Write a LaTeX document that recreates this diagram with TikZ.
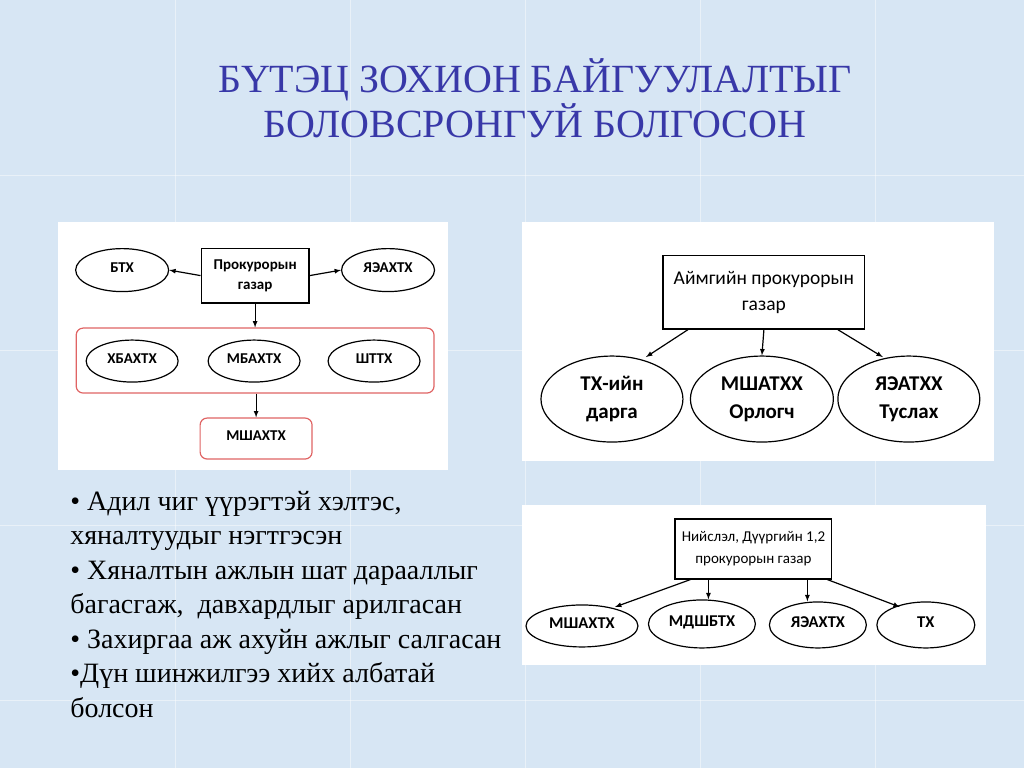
\documentclass[tikz,border=0pt]{standalone}
\usepackage{fontspec}
\setmainfont{Liberation Serif}
\newfontfamily\calib{Carlito}
\usetikzlibrary{shapes.geometric}
\definecolor{bgblue}{HTML}{D7E6F4}
\definecolor{titleblue}{HTML}{3838A8}
\definecolor{redline}{HTML}{E06464}

\begin{document}
\begin{tikzpicture}[x=1pt, y=-1pt,
  box/.style={draw, line width=1.2pt, rectangle, inner sep=0pt, align=center, font=\calib},
  oval/.style={draw, line width=1.2pt, ellipse, inner sep=0pt, align=center},
  one/.style={text height=1.5ex, text depth=0.5ex},
  redbox/.style={draw=redline, line width=1.2pt, rounded corners=7pt, rectangle, inner sep=0pt},
  arr/.style={line width=1.2pt, -latex}]
% background
\fill[bgblue] (0,0) rectangle (1024,768);
\foreach \k in {175,350,525,700,875} \draw[white, opacity=0.45] (\k,0) -- (\k,768);
\foreach \k in {175,350,525,700} \draw[white, opacity=0.45] (0,\k) -- (1024,\k);
\useasboundingbox (0,0) rectangle (1024,768);

% title
\node (t1) [anchor=base, titleblue, font=\fontsize{40}{44}\selectfont] at (535,92) {БҮТЭЦ ЗОХИОН БАЙГУУЛАЛТЫГ};
\node (t2) [anchor=base, titleblue, font=\fontsize{40}{44}\selectfont] at (535,137) {БОЛОВСРОНГУЙ БОЛГОСОН};

% panel 1
\fill[white] (58,222) rectangle (448,470);
\node (pg) [box, minimum width=108pt, minimum height=55pt, font=\calib\bfseries\fontsize{15}{20}\selectfont] at (255,275.5) {Прокурорын\\газар};
\node (btx) [oval, one, minimum width=93pt, minimum height=43pt, font=\calib\bfseries\fontsize{15}{17}\selectfont] at (122,270) {БТХ};
\node (yae) [oval, one, minimum width=93pt, minimum height=43pt, font=\calib\bfseries\fontsize{15}{17}\selectfont] at (388,270) {ЯЭАХТХ};
\node (grp) [redbox, minimum width=358pt, minimum height=65pt] at (255,360.5) {};
\node (xba) [oval, one, minimum width=92pt, minimum height=42pt, font=\calib\bfseries\fontsize{15}{17}\selectfont] at (132,361) {ХБАХТХ};
\node (mba) [oval, one, minimum width=92pt, minimum height=42pt, font=\calib\bfseries\fontsize{15}{17}\selectfont] at (254,361) {МБАХТХ};
\node (sht) [oval, one, minimum width=92pt, minimum height=42pt, font=\calib\bfseries\fontsize{15}{17}\selectfont] at (374,361) {ШТТХ};
\node (msh) [redbox, one, minimum width=112pt, minimum height=41pt, font=\calib\bfseries\fontsize{15}{17}\selectfont] at (256,438.5) {МШАХТХ};
\draw[arr] (pg.west) -- (btx.east);
\draw[arr] (pg.east) -- (yae.west);
\draw[arr] (pg.south) -- (pg.south |- grp.north);
\draw[arr] (grp.south -| msh.north) -- (msh.north);

% panel 2
\fill[white] (522,222) rectangle (994,461);
\node (aim) [box, minimum width=202pt, minimum height=74pt, font=\calib\fontsize{19.5}{26}\selectfont] at (764,292) {Аймгийн прокурорын\\газар};
\node (txd) [oval, minimum width=142pt, minimum height=86pt, font=\calib\bfseries\fontsize{21}{28}\selectfont] at (612,399) {ТХ-ийн\\дарга};
\node (mor) [oval, minimum width=143pt, minimum height=86pt, font=\calib\bfseries\fontsize{21}{28}\selectfont] at (762,399) {МШАТХХ\\Орлогч};
\node (yat) [oval, minimum width=142pt, minimum height=86pt, font=\calib\bfseries\fontsize{21}{28}\selectfont] at (909,399) {ЯЭАТХХ\\Туслах};
\draw[arr] ([xshift=-76pt]aim.south) -- (646,357);
\draw[arr] (aim.south) -- (mor.north);
\draw[arr] ([xshift=74pt]aim.south) -- (883,357);

% panel 3
\fill[white] (522,505) rectangle (986,665);
\node (nii) [box, minimum width=157pt, minimum height=60pt, font=\calib\fontsize{15}{22}\selectfont] at (753.5,549) {Нийслэл, Дүүргийн 1,2\\прокурорын газар};
\node (msh3) [oval, one, minimum width=112pt, minimum height=42pt, font=\calib\bfseries\fontsize{16.5}{18}\selectfont] at (582,626) {МШАХТХ};
\node (mdsh) [oval, one, minimum width=107pt, minimum height=48pt, font=\calib\bfseries\fontsize{16.5}{18}\selectfont] at (702,624) {МДШБТХ};
\node (yae3) [oval, one, minimum width=97pt, minimum height=46pt, font=\calib\bfseries\fontsize{16.5}{18}\selectfont] at (818,625) {ЯЭАХТХ};
\node (tx3) [oval, one, minimum width=98pt, minimum height=46pt, font=\calib\bfseries\fontsize{16.5}{18}\selectfont] at (926,625) {ТХ};
\draw[arr] ([xshift=-63pt]nii.south) -- (615,607);
\draw[arr] ([xshift=-45pt]nii.south) -- ([xshift=-45pt]nii.south |- mdsh.north);
\draw[arr] ([xshift=54pt]nii.south) -- ([xshift=54pt]nii.south |- yae3.north);
\draw[arr] ([xshift=74pt]nii.south) -- (900,607);

% bullet text
\foreach \t [count=\i] in {{• Адил чиг үүрэгтэй хэлтэс,}, хяналтуудыг нэгтгэсэн, • Хяналтын ажлын шат дарааллыг, {багасгаж,\ \ давхардлыг арилгасан}, • Захиргаа аж ахуйн ажлыг салгасан, •Дүн шинжилгээ хийх албатай, болсон}
  \node (ln\i) [anchor=base west, inner sep=0pt, font=\fontsize{28}{32}\selectfont] at (70,{510+34.6*(\i-1)}) {\t};
\end{tikzpicture}
\end{document}
